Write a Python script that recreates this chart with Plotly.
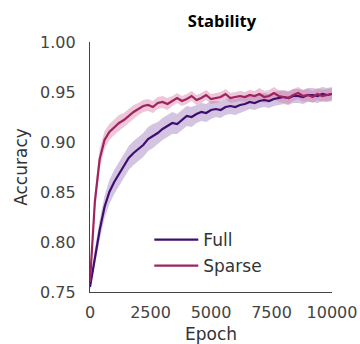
import plotly.graph_objects as go

epochs = list(range(0, 10001, 200))

full_mean = [0.755, 0.785, 0.812, 0.835, 0.850, 0.860, 0.868, 0.876, 0.884, 0.889,
             0.893, 0.897, 0.903, 0.906, 0.909, 0.913, 0.916, 0.919, 0.918, 0.922,
             0.926, 0.925, 0.928, 0.930, 0.929, 0.932, 0.933, 0.932, 0.935, 0.936,
             0.935, 0.937, 0.938, 0.940, 0.939, 0.941, 0.942, 0.941, 0.943, 0.944,
             0.945, 0.944, 0.946, 0.946, 0.945, 0.947, 0.947, 0.946, 0.948, 0.947,
             0.948]
full_std = [0.003, 0.008, 0.010, 0.011, 0.012, 0.012, 0.012, 0.012, 0.012, 0.012,
            0.012, 0.012, 0.012, 0.012, 0.011, 0.011, 0.011, 0.011, 0.010, 0.010,
            0.010, 0.010, 0.009, 0.009, 0.009, 0.009, 0.008, 0.008, 0.008, 0.008,
            0.008, 0.008, 0.007, 0.007, 0.007, 0.007, 0.007, 0.007, 0.007, 0.007,
            0.007, 0.007, 0.007, 0.007, 0.007, 0.007, 0.007, 0.007, 0.007, 0.007,
            0.007]

sparse_mean = [0.760, 0.840, 0.883, 0.902, 0.910, 0.915, 0.919, 0.922, 0.926, 0.930,
               0.933, 0.936, 0.937, 0.935, 0.939, 0.940, 0.938, 0.941, 0.944, 0.941,
               0.943, 0.946, 0.942, 0.944, 0.947, 0.943, 0.944, 0.945, 0.948, 0.944,
               0.945, 0.946, 0.945, 0.947, 0.946, 0.948, 0.945, 0.946, 0.949, 0.946,
               0.945, 0.944, 0.947, 0.949, 0.946, 0.947, 0.945, 0.948, 0.946, 0.947,
               0.948]
sparse_std = [0.003, 0.010, 0.010, 0.009, 0.008, 0.008, 0.008, 0.007, 0.007, 0.007,
              0.006, 0.006, 0.006, 0.006, 0.006, 0.006, 0.006, 0.005, 0.005, 0.005,
              0.005, 0.005, 0.005, 0.005, 0.005, 0.005, 0.005, 0.005, 0.005, 0.005,
              0.005, 0.005, 0.005, 0.005, 0.005, 0.006, 0.006, 0.006, 0.006, 0.006,
              0.006, 0.006, 0.006, 0.006, 0.006, 0.006, 0.006, 0.006, 0.006, 0.006,
              0.006]

x_ticks = [0, 2500, 5000, 7500, 10000]
y_ticks = [0.75, 0.80, 0.85, 0.90, 0.95, 1.00]

FULL = "rgb(62,14,110)"
SPARSE = "rgb(160,34,94)"
FULL_BAND = "rgba(150,115,185,0.42)"
SPARSE_BAND = "rgba(212,120,160,0.42)"

fig = go.Figure()

def band(mean, std, color):
    upper = [m + s for m, s in zip(mean, std)]
    lower = [m - s for m, s in zip(mean, std)]
    fig.add_trace(go.Scatter(x=epochs + epochs[::-1], y=upper + lower[::-1],
                             fill="toself", fillcolor=color, line=dict(width=0),
                             hoverinfo="skip", showlegend=False))

band(full_mean, full_std, FULL_BAND)
band(sparse_mean, sparse_std, SPARSE_BAND)

fig.add_trace(go.Scatter(x=epochs, y=full_mean, mode="lines", name="Full",
                         legendgroup="full",
                         line=dict(color=FULL, width=2.2)))
fig.add_trace(go.Scatter(x=epochs, y=sparse_mean, mode="lines", name="Sparse",
                         legendgroup="sparse",
                         line=dict(color=SPARSE, width=2.2)))

fig.update_layout(
    width=360, height=344,
    margin=dict(l=90, r=28, t=42, b=52, autoexpand=False),
    paper_bgcolor="white", plot_bgcolor="white",
    font=dict(family="DejaVu Sans", color="#444"),
    title=dict(text="<b>Stability</b>", x=222/360, xanchor="center", y=1 - 21/344,
               yanchor="middle", font=dict(family="Open Sans", size=16.5, color="black")),
    legend=dict(x=0.245, y=0.28, xanchor="left", yanchor="top",
                font=dict(size=17, color="#333"), bgcolor="rgba(0,0,0,0)",
                tracegroupgap=1, itemwidth=44),
    showlegend=True,
)
fig.update_xaxes(range=[0, 10000], tickvals=x_ticks, ticktext=[str(v) for v in x_ticks],
                 showgrid=False, zeroline=False, showline=True, linecolor="#444",
                 linewidth=1.3, ticks="", tickfont=dict(size=16, color="#444"),
                 ticklabelstandoff=6, automargin=False,
                 title=dict(text="Epoch", font=dict(size=17, color="#333"), standoff=8))
fig.update_yaxes(range=[0.75, 1.00], tickvals=y_ticks, tickformat=".2f",
                 showgrid=False, zeroline=False, showline=True, linecolor="#444",
                 linewidth=1.3, ticks="", tickfont=dict(size=16, color="#444"),
                 ticklabelstandoff=10, automargin=False,
                 title=dict(text="Accuracy", font=dict(size=17, color="#333"), standoff=8))

fig.write_html("out.html", config={"displayModeBar": False},
               post_script="document.body.style.margin='0px';")
